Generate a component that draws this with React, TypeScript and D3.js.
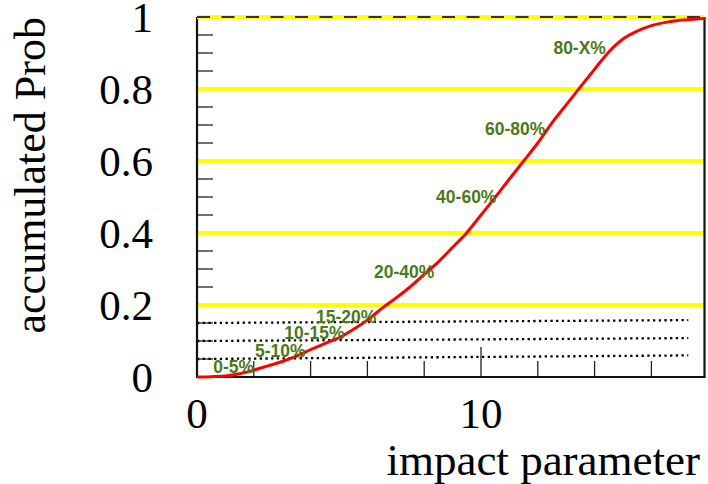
import React from "react";
import * as d3 from "d3";

// cumulative probability vs impact parameter
const impactB = [0, 0.5, 1, 1.5, 2, 2.5, 3, 3.5, 4, 4.5, 5, 5.5, 6, 6.5, 7, 7.5, 8, 8.5, 9, 9.5, 10, 10.5, 11, 11.5, 12, 12.5, 13, 13.5, 14, 14.5, 15, 15.5, 16, 16.5, 17, 17.5, 17.9];
const accumProb = [0, 0.001, 0.003, 0.009, 0.019, 0.031, 0.043, 0.058, 0.076, 0.093, 0.109, 0.132, 0.158, 0.19, 0.219, 0.25, 0.285, 0.32, 0.36, 0.401, 0.45, 0.499, 0.55, 0.6, 0.65, 0.706, 0.756, 0.806, 0.855, 0.903, 0.939, 0.961, 0.976, 0.985, 0.991, 0.994, 0.996];

const yTickLabels = ["0", "0.2", "0.4", "0.6", "0.8", "1"];
const yTickValues = [0, 0.2, 0.4, 0.6, 0.8, 1];
const xTickLabels = ["0", "10"];
const xTickValues = [0, 10];
const yellowLevels = [0.2, 0.4, 0.6, 0.8];
const dottedLevels = [0.05, 0.1, 0.15];
const dottedEndLevels = [0.06, 0.108, 0.158];
const dottedEndX = 17.3;

const bandLabels = ["0-5%", "5-10%", "10-15%", "15-20%", "20-40%", "40-60%", "60-80%", "80-X%"];
const bandLabelX = [0.57, 2.04, 3.07, 4.19, 6.23, 8.42, 10.14, 12.55];
const bandLabelY = [0.01, 0.056, 0.106, 0.149, 0.276, 0.482, 0.672, 0.896];

const X_MAX = 17.87;

export default function App() {
  const W = 708, H = 484;
  const left = 197, right = 704.5, top = 17, bottom = 377;
  const x = d3.scaleLinear().domain([0, X_MAX]).range([left, right]);
  const y = d3.scaleLinear().domain([0, 1]).range([bottom, top]);

  const pts: [number, number][] = impactB.map((b, i) => [b, accumProb[i]]);
  const line = d3
    .line<[number, number]>()
    .x((d) => x(d[0]))
    .y((d) => y(d[1]))
    .curve(d3.curveMonotoneX);

  const yMinor = d3.range(0, 1.0001, 0.05).map((v) => +v.toFixed(2));
  const xMinor = d3.range(2, X_MAX, 2);

  const serif = "'Liberation Serif', 'DejaVu Serif', serif";
  const sans = "'Liberation Sans', Arial, sans-serif";

  return (
    <svg
      width={W}
      height={H}
      style={{ position: "absolute", left: 0, top: 0, background: "#fff" }}
    >
      <rect x={0} y={0} width={W} height={H} fill="#fff" />
      {/* y minor ticks */}
      {yMinor.map((v) => (
        <line key={"ym" + v} x1={left} x2={left + 16} y1={y(v)} y2={y(v)} stroke="#222" strokeWidth={1.3} />
      ))}
      {/* x ticks */}
      {xMinor.map((v) => (
        <line
          key={"xm" + v}
          x1={x(v)}
          x2={x(v)}
          y1={bottom}
          y2={bottom - (v === 10 ? 30 : 16)}
          stroke="#222"
          strokeWidth={1.3}
        />
      ))}
      {/* yellow level lines */}
      {yellowLevels.map((v) => (
        <line key={"yl" + v} x1={left} x2={right} y1={y(v)} y2={y(v)} stroke="#ffff00" strokeWidth={4} />
      ))}
      {/* dotted level lines */}
      {dottedLevels.map((v, i) => (
        <line
          key={"dl" + v}
          x1={left}
          x2={x(dottedEndX)}
          y1={y(v)}
          y2={y(dottedEndLevels[i])}
          stroke="#000"
          strokeWidth={2.3}
          strokeDasharray="2.3 3.4"
        />
      ))}
      {/* frame */}
      <line x1={left} x2={left} y1={top} y2={bottom} stroke="#111" strokeWidth={2.2} />
      <line x1={right} x2={right} y1={top} y2={bottom} stroke="#111" strokeWidth={2.2} />
      <line x1={left - 1} x2={right + 1} y1={bottom} y2={bottom} stroke="#111" strokeWidth={2.2} />
      <line x1={left} x2={right} y1={y(1)} y2={y(1)} stroke="#ffff00" strokeWidth={4} />
      <line x1={left} x2={right} y1={y(1)} y2={y(1)} stroke="#333" strokeWidth={2} strokeDasharray="13 11.5" />
      {/* curve */}
      <path d={line(pts) || ""} fill="none" stroke="#ff0000" strokeWidth={3} />
      {/* band labels */}
      {bandLabels.map((t, i) => (
        <text
          key={t}
          x={x(bandLabelX[i])}
          y={y(bandLabelY[i])}
          fontFamily={sans}
          fontWeight="bold"
          fontSize={17.5}
          fill="#4a7a16"
        >
          {t}
        </text>
      ))}
      {/* y tick labels */}
      {yTickValues.map((v, i) => (
        <text key={"yt" + v} x={153} y={y(v) + 15} textAnchor="end" fontFamily={serif} fontSize={43} fill="#000">
          {yTickLabels[i]}
        </text>
      ))}
      {/* x tick labels */}
      {xTickValues.map((v, i) => (
        <text key={"xt" + v} x={x(v)} y={428} textAnchor="middle" fontFamily={serif} fontSize={43} fill="#000">
          {xTickLabels[i]}
        </text>
      ))}
      {/* axis titles */}
      <text x={700} y={475} textAnchor="end" fontFamily={serif} fontSize={45} fill="#000">
        impact parameter
      </text>
      <text
        transform={`translate(45, ${top}) rotate(-90)`}
        textAnchor="end"
        fontFamily={serif}
        fontSize={44}
        fill="#000"
      >
        accumulated Prob
      </text>
    </svg>
  );
}
